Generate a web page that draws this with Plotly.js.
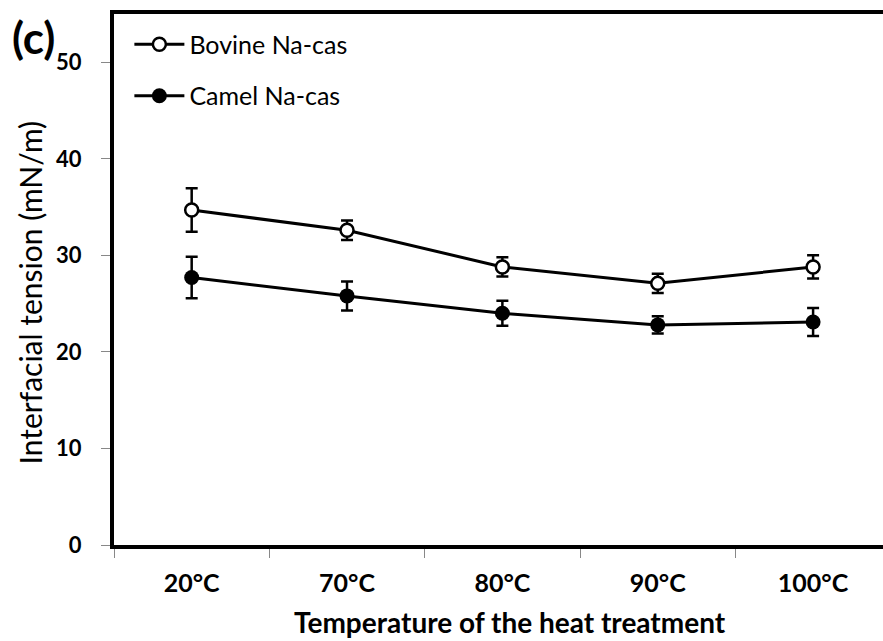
<!DOCTYPE html>
<html>
<head>
<meta charset="utf-8">
<script src="https://cdn.plot.ly/plotly-3.0.1.min.js"></script>
<style>
html,body{margin:0;padding:0;background:#fff;overflow:hidden;}
#chart{width:883px;height:641px;}
</style>
</head>
<body>
<div id="chart"></div>
<script>
var categories = ["20°C", "70°C", "80°C", "90°C", "100°C"];
var bovineValues = [34.7, 32.6, 28.8, 27.1, 28.8];
var bovineErrors = [2.25, 1.0, 1.0, 1.0, 1.2];
var camelValues = [27.7, 25.8, 24.0, 22.8, 23.1];
var camelErrors = [2.15, 1.5, 1.3, 0.9, 1.45];
var yTicks = [0, 10, 20, 30, 40, 50];
var xTitle = "Temperature of the heat treatment";
var yTitle = "Interfacial tension (mN/m)";

var FONT = "Lato, 'Open Sans', sans-serif";

var traces = [
  {
    x: categories, y: bovineValues, name: "Bovine Na-cas",
    type: "scatter", mode: "lines+markers", legendgroup: "a",
    line: {color: "#000", width: 3},
    marker: {symbol: "circle", size: 13, color: "#fff", line: {color: "#000", width: 2.5}},
    error_y: {type: "data", array: bovineErrors, visible: true, color: "#000", thickness: 2.5, width: 6}
  },
  {
    x: categories, y: camelValues, name: "Camel Na-cas",
    type: "scatter", mode: "lines+markers", legendgroup: "b",
    line: {color: "#000", width: 3},
    marker: {symbol: "circle", size: 15, color: "#000", line: {color: "#000", width: 0}},
    error_y: {type: "data", array: camelErrors, visible: true, color: "#000", thickness: 2.5, width: 6}
  }
];

var layout = {
  width: 883, height: 641,
  margin: {l: 114, r: 0, t: 14, b: 96, pad: 0},
  paper_bgcolor: "#fff", plot_bgcolor: "#fff",
  font: {family: FONT, color: "#000"},
  showlegend: true,
  legend: {
    x: 0.02, y: 0.986, xanchor: "left", yanchor: "top",
    bgcolor: "rgba(0,0,0,0)", borderwidth: 0,
    font: {family: FONT, size: 25, color: "#000"},
    traceorder: "grouped", tracegroupgap: 16, itemwidth: 50
  },
  xaxis: {
    type: "category", categoryorder: "array", categoryarray: categories,
    range: [-0.5, 4.45],
    showline: true, linecolor: "#000", linewidth: 4, mirror: true,
    ticks: "outside", tickson: "boundaries", ticklen: 9, tickwidth: 1, tickcolor: "#888",
    showgrid: false, zeroline: false,
    tickfont: {family: FONT, size: 25, color: "#000", weight: "bold"},
    ticklabelstandoff: 13
  },
  yaxis: {
    range: [0, 55], tickvals: yTicks, ticktext: yTicks.map(String),
    showline: true, linecolor: "#000", linewidth: 4, mirror: false,
    ticks: "outside", ticklen: 9, tickwidth: 1, tickcolor: "#888",
    showgrid: false, zeroline: false,
    tickfont: {family: FONT, size: 22, color: "#000", weight: "bold"},
    ticklabelstandoff: 15
  },
  annotations: [
    {text: "<b>(c)</b>", xref: "paper", yref: "paper", x: -0.135, y: 1.01, xanchor: "left", yanchor: "top",
     showarrow: false, font: {family: FONT, size: 44, color: "#000"}},
    {text: "<b>" + xTitle + "</b>", xref: "paper", yref: "paper", x: 0.515, y: -0.145,
     xanchor: "center", yanchor: "middle", showarrow: false, font: {family: FONT, size: 28, color: "#000"}},
    {text: yTitle, xref: "paper", yref: "paper", x: -0.109, y: 0.476, textangle: -90,
     xanchor: "center", yanchor: "middle", showarrow: false, font: {family: FONT, size: 30, color: "#000"}}
  ]
};

Plotly.newPlot("chart", traces, layout, {displayModeBar: false, staticPlot: true});
</script>
</body>
</html>
